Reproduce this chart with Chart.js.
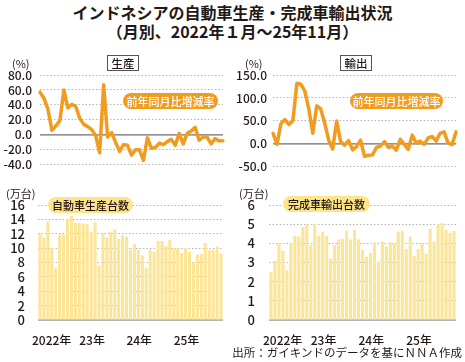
<!DOCTYPE html>
<html lang="ja">
<head>
<meta charset="UTF-8">
<title>インドネシアの自動車生産・完成車輸出状況</title>
<script src="https://cdn.jsdelivr.net/npm/chart.js"></script>
<style>
    body {
        margin: 0;
        background: #fff;
        font-family: "Noto Sans CJK JP", sans-serif;
        color: #231815;
    }
    #wrap {
        position: relative;
        width: 465px;
        height: 362px;
        overflow: hidden;
    }
    #wrap canvas { position: absolute; }
    .title {
        position: absolute;
        left: 0;
        top: 3px;
        width: 465px;
        text-align: center;
        font-size: 16px;
        font-weight: bold;
        line-height: 19px;
    }
    .unit {
        position: absolute;
        font-size: 11px;
        line-height: 12px;
    }
    .box {
        position: absolute;
        height: 14px;
        border: 1px solid #555;
        font-size: 11.5px;
        font-weight: 500;
        line-height: 14px;
        text-align: center;
    }
    .pill {
        position: absolute;
        height: 16px;
        border-radius: 8px;
        font-size: 11px;
        font-weight: 500;
        line-height: 16px;
        text-align: center;
        white-space: nowrap;
    }
    .pill.orange { background: #f29c1f; color: #fff; }
    .pill.yellow { background: #fde38a; color: #231815; }
    .source {
        position: absolute;
        right: 3px;
        top: 345px;
        font-size: 11.5px;
        line-height: 14px;
    }
</style>
</head>
<body>
<div id="wrap">
    <div class="title">インドネシアの自動車生産・完成車輸出状況<br>（月別、2022年１月～25年11月）</div>

    <canvas id="prodYoYChart" width="232" height="130" style="left:0;top:50px"></canvas>
    <canvas id="exportYoYChart" width="233" height="130" style="left:232px;top:50px"></canvas>
    <canvas id="prodChart" width="232" height="165" style="left:0;top:180px"></canvas>
    <canvas id="exportChart" width="233" height="165" style="left:232px;top:180px"></canvas>

    <div class="unit" style="left:12px;top:57px">(%)</div>
    <div class="unit" style="left:245px;top:57px">(%)</div>
    <div class="unit" style="left:6px;top:187px">(万台)</div>
    <div class="unit" style="left:239px;top:187px">(万台)</div>

    <div class="box" style="left:107px;top:55px;width:30px">生産</div>
    <div class="box" style="left:340px;top:55px;width:30px">輸出</div>

    <div class="pill orange" style="left:123px;top:93px;width:95px">前年同月比増減率</div>
    <div class="pill orange" style="left:350px;top:93px;width:93px">前年同月比増減率</div>
    <div class="pill yellow" style="left:48px;top:197px;width:85px">自動車生産台数</div>
    <div class="pill yellow" style="left:283px;top:196px;width:87px">完成車輸出台数</div>

    <div class="source">出所：ガイキンドのデータを基にＮＮＡ作成</div>
</div>

<script>
    // 2022年1月～2025年11月 (47か月)
    const months = [
        '22/1', '22/2', '22/3', '22/4', '22/5', '22/6', '22/7', '22/8', '22/9', '22/10', '22/11', '22/12',
        '23/1', '23/2', '23/3', '23/4', '23/5', '23/6', '23/7', '23/8', '23/9', '23/10', '23/11', '23/12',
        '24/1', '24/2', '24/3', '24/4', '24/5', '24/6', '24/7', '24/8', '24/9', '24/10', '24/11', '24/12',
        '25/1', '25/2', '25/3', '25/4', '25/5', '25/6', '25/7', '25/8', '25/9', '25/10', '25/11'
    ];
    const yearTickIndex = [0, 12, 24, 36];
    const yearTickText = ['2022年', '23年', '24年', '25年'];

    // 前年同月比増減率 (%)
    const prodYoY = [
        57, 49, 34, 6, 12, 19, 60, 36, 41, 38, 22, 14,
        11, 7, -1, -24, 67, -3, 3, -10, -22, -13, -14, -27,
        -20, -20, -34, -4, -18, -17, -11, -13, -9, -6, -14, 2,
        -12, 2, 5, 10, -7, -3, -3, -12, -5, -8, -8
    ];
    const exportYoY = [
        23, -1, 44, 53, 42, 51, 132, 130, 115, 76, 23, 83,
        76, 45, 8, -11, 50, 5, -3, 7, -13, -6, 8, -27,
        -25, -24, -8, -5, 5, -8, -5, -14, 10, -1, -12, 19,
        2, 6, -1, 13, 16, 6, 23, 26, 2, -2, 26
    ];

    // 台数 (万台)
    const prodUnits = [
        12.0, 11.5, 13.7, 10.0, 7.2, 11.9, 11.9, 14.0, 14.5, 13.5, 13.5, 13.4,
        13.3, 12.3, 13.6, 7.6, 12.0, 11.5, 12.3, 12.6, 11.3, 11.8, 11.6, 9.8,
        10.6, 9.8, 9.0, 7.3, 9.8, 9.5, 11.0, 11.0, 10.3, 11.1, 10.0, 10.0,
        9.3, 10.0, 9.5, 8.0, 9.1, 9.2, 10.7, 9.7, 9.8, 10.2, 9.2
    ];
    const exportUnits = [
        2.5, 3.1, 4.0, 3.6, 2.6, 4.0, 4.4, 4.35, 4.85, 5.0, 3.9, 5.0,
        4.4, 4.6, 4.4, 3.2, 3.9, 4.2, 4.25, 4.65, 4.2, 4.7, 4.2, 3.65,
        3.3, 3.5, 4.05, 3.05, 4.1, 3.85, 4.05, 4.0, 4.6, 4.65, 3.7, 4.35,
        3.35, 3.7, 4.0, 3.45, 4.75, 4.1, 5.0, 5.05, 4.7, 4.55, 4.65
    ];

    const FONT = '"Noto Sans CJK JP", sans-serif';
    const TEXT = '#231815';
    const ORANGE = '#f29c1f';
    const BAR = '#fde597';
    const GRID = '#b5b5b5';

    // solid line at value 0 (zero line / baseline)
    const zeroLine = {
        id: 'zeroLine',
        beforeDatasetsDraw(chart) {
            const y = chart.scales.y.getPixelForValue(0);
            const { left, right } = chart.chartArea;
            const ctx = chart.ctx;
            ctx.save();
            ctx.strokeStyle = '#6e6e6e';
            ctx.lineWidth = 1.2;
            ctx.beginPath();
            ctx.moveTo(left, y);
            ctx.lineTo(right, y);
            ctx.stroke();
            ctx.restore();
        }
    };

    function yScale(min, max, step, size, pad, width, decimals) {
        return {
            min: min,
            max: max,
            ticks: {
                stepSize: step,
                autoSkip: false,
                padding: pad,
                color: TEXT,
                font: { family: FONT, size: size, weight: '500' },
                callback: v => v.toFixed(decimals)
            },
            grid: {
                drawTicks: false,
                color: c => c.tick.value === 0 ? 'rgba(0,0,0,0)' : GRID
            },
            border: { display: false, dash: [1.5, 2] },
            afterFit: s => { s.width = width; }
        };
    }

    function lineChart(id, values, min, max, step, yWidth, yPad, padBottom) {
        return new Chart(document.getElementById(id), {
            type: 'line',
            data: {
                labels: months,
                datasets: [{
                    data: values,
                    borderColor: ORANGE,
                    borderWidth: 3.5,
                    borderJoinStyle: 'round',
                    borderCapStyle: 'round',
                    pointRadius: 0,
                    tension: 0
                }]
            },
            options: {
                responsive: false,
                animation: false,
                layout: { padding: { top: 25, bottom: padBottom, right: 9, left: 0 } },
                plugins: { legend: { display: false }, tooltip: { enabled: false } },
                scales: {
                    x: { display: false },
                    y: yScale(min, max, step, 12, yPad, yWidth, 1)
                }
            },
            plugins: [zeroLine]
        });
    }

    function barChart(id, values, max, yWidth, yPad) {
        return new Chart(document.getElementById(id), {
            type: 'bar',
            data: {
                labels: months,
                datasets: [{
                    data: values,
                    backgroundColor: BAR,
                    barPercentage: 0.78,
                    categoryPercentage: 1
                }]
            },
            options: {
                responsive: false,
                animation: false,
                layout: { padding: { top: 25, bottom: 0, right: 9, left: 0 } },
                plugins: { legend: { display: false }, tooltip: { enabled: false } },
                scales: {
                    x: {
                        grid: { display: false },
                        border: { display: false },
                        ticks: {
                            autoSkip: false,
                            maxRotation: 0,
                            align: 'start',
                            labelOffset: -8,
                            padding: 5,
                            color: TEXT,
                            font: { family: FONT, size: 12, weight: '500' },
                            callback: (v, i) => {
                                const k = yearTickIndex.indexOf(i);
                                return k < 0 ? '' : yearTickText[k];
                            }
                        },
                        afterFit: s => { s.height = 25; }
                    },
                    y: yScale(0, max, max === 16 ? 2 : 1, 13, yPad, yWidth, 0)
                }
            },
            plugins: [zeroLine]
        });
    }

    lineChart('prodYoYChart', prodYoY, -40, 80, 20, 40, 8, 12);
    lineChart('exportYoYChart', exportYoY, -50, 150, 50, 41, 6, 11);
    barChart('prodChart', prodUnits, 16, 38, 13);
    barChart('exportChart', exportUnits, 6, 37, 14);
</script>
</body>
</html>
